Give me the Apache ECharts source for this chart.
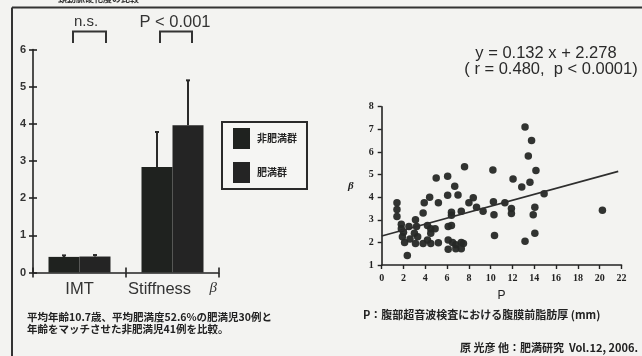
<!DOCTYPE html>
<html>
<head>
<meta charset="utf-8">
<script src="https://cdn.jsdelivr.net/npm/echarts@6/dist/echarts.min.js"></script>
<style>
html,body{margin:0;padding:0;background:#f3f3f1;}
#c{width:642px;height:356px;}
</style>
</head>
<body>
<div id="c"></div>
<script>
// ---- Bar chart data (left panel) ----
const groups = ['IMT', 'Stiffness β'];
const seriesNames = ['非肥満群', '肥満群'];
const nonObese = [0.42, 2.84];
const obese = [0.43, 3.96];
const nonObeseSD = [0.04, 0.94];
const obeseSD = [0.04, 1.21];
const sigLabels = ['n.s.', 'P < 0.001'];

// ---- Scatter data (right panel) ----
const pValues = [1.4,1.4,1.4,1.8,1.8,2.0,1.9,2.1,2.35,2.6,3.1,3.2,3.0,3.3,3.1,3.8,3.9,4.4,4.2,4.5,4.5,3.8,4.5,4.2,5.0,5.2,5.2,4.9,6.05,6.05,6.4,6.7,6.1,6.4,6.1,6.1,6.5,7.0,7.3,6.8,6.8,7.6,7.3,7.5,7.3,8.0,8.4,8.7,9.3,10.2,10.25,10.3,10.35,11.3,12.05,11.9,11.9,12.85,13.15,13.75,13.45,14.15,13.6,13.15,14.05,14.05,13.9,14.9,20.25,6.4,2.5];
const betaValues = [3.75,3.45,3.15,2.8,2.6,2.45,2.25,2.0,1.42,2.15,3.0,2.7,2.4,2.25,1.95,3.3,3.75,4.0,2.75,2.6,2.4,1.95,1.95,2.1,4.85,3.75,1.98,2.6,4.92,4.08,3.33,4.48,2.7,2.75,2.1,1.7,2.0,4.1,3.38,1.9,1.72,5.35,2.0,1.95,1.72,3.75,3.97,3.55,3.38,5.2,3.8,3.22,2.3,3.75,4.8,3.5,3.28,4.45,7.1,6.5,5.82,5.18,4.66,2.05,2.4,3.55,3.22,4.15,3.42,3.2,2.7];
const fitP = [0, 21.7];
const fitBeta = [2.278, 5.14];
const xTicksP = {min: 0, max: 22, interval: 2};
const yTicksBeta = {min: 1, max: 8, interval: 1};
const yTicksBar = {min: 0, max: 6, interval: 1};

const chart = echarts.init(document.getElementById('c'), null, {renderer: 'canvas'});

const ink = '#232323';
const sansBold = 'Liberation Sans';
const errData = [];
for (let i = 0; i < groups.length; i++) {
  errData.push([i, nonObese[i], nonObeseSD[i], -1]);
  errData.push([i, obese[i], obeseSD[i], 1]);
}
const scatterData = pValues.map((p, i) => [p, betaValues[i]]);
const fitData = fitP.map((p, i) => [p, fitBeta[i]]);

const axisLine = {show: true, lineStyle: {color: ink, width: 1.6}};

const option = {
  backgroundColor: '#f3f3f1',
  animation: false,
  grid: [
    {left: 33, top: 49.5, width: 186, height: 223},
    {left: 381.7, top: 106.7, width: 239.8, height: 158.3}
  ],
  legend: {
    data: seriesNames,
    orient: 'vertical',
    left: 222, top: 122,
    padding: [6, 10, 6, 11],
    itemWidth: 17, itemHeight: 21, itemGap: 13,
    icon: 'rect',
    borderColor: '#2a2a2a', borderWidth: 2,
    backgroundColor: '#f5f5f3',
    textStyle: {fontFamily: 'Noto Sans CJK JP', fontSize: 10, fontWeight: 'bold', color: ink, padding: [0,0,0,2]}
  },
  xAxis: [
    {gridIndex: 0, type: 'category', data: groups, position: 'bottom',
     axisLine: axisLine,
     axisTick: {show: true, length: 5, lineStyle: {color: ink, width: 1.6}},
     axisLabel: {margin: 8, interval: 0, hideOverlap: false, fontFamily: 'Liberation Sans', fontSize: 16.5, color: '#333',
       formatter: function (v) { return v === 'Stiffness β' ? 'Stiffness    {b|β}' : v; },
       rich: {b: {fontFamily: 'Liberation Serif', fontStyle: 'italic', fontSize: 15, color: '#333', padding: [0,0,3,0]}}},
     splitLine: {show: false}},
    {gridIndex: 0, type: 'category', data: groups, position: 'bottom', offset: 0,
     axisLine: {show: false},
     axisTick: {show: true, inside: true, length: 5, lineStyle: {color: ink, width: 1.6}},
     axisLabel: {show: false}, splitLine: {show: false}},
    {gridIndex: 1, type: 'value', min: xTicksP.min, max: xTicksP.max, interval: xTicksP.interval,
     axisLine: axisLine,
     axisTick: {show: true, length: 4, lineStyle: {color: ink, width: 1.4}},
     axisLabel: {margin: 8, fontFamily: 'Liberation Serif', fontWeight: 'bold', fontSize: 10, color: '#222'},
     splitLine: {show: false},
     name: 'P', nameLocation: 'middle', nameGap: 25,
     nameTextStyle: {fontFamily: 'Liberation Sans', fontSize: 12, color: '#222'}}
  ],
  yAxis: [
    {gridIndex: 0, type: 'value', position: 'left', min: yTicksBar.min, max: yTicksBar.max, interval: yTicksBar.interval,
     axisLine: axisLine,
     axisTick: {show: true, length: 4, lineStyle: {color: ink, width: 1.6}},
     axisLabel: {margin: 7, fontFamily: sansBold, fontWeight: 'bold', fontSize: 11, color: '#333'},
     splitLine: {show: false}},
    {gridIndex: 0, type: 'value', position: 'left', offset: 0, min: yTicksBar.min, max: yTicksBar.max, interval: yTicksBar.interval,
     axisLine: {show: false},
     axisTick: {show: true, inside: true, length: 4, lineStyle: {color: ink, width: 1.6}},
     axisLabel: {show: false}, splitLine: {show: false}},
    {gridIndex: 1, type: 'value', min: yTicksBeta.min, max: yTicksBeta.max, interval: yTicksBeta.interval,
     axisLine: axisLine,
     axisTick: {show: true, length: 4, lineStyle: {color: ink, width: 1.4}},
     axisLabel: {margin: 8, fontFamily: 'Liberation Serif', fontWeight: 'bold', fontSize: 10, color: '#222'},
     splitLine: {show: false},
     name: 'β', nameLocation: 'middle', nameGap: 28, nameRotate: 0,
     nameTextStyle: {fontFamily: 'Liberation Serif', fontStyle: 'italic', fontWeight: 'bold', fontSize: 11, color: '#222', padding: [0,0,12,0]}}
  ],
  series: [
    {name: seriesNames[0], type: 'bar', xAxisIndex: 0, yAxisIndex: 0, data: nonObese,
     barWidth: 31, barGap: '0%', itemStyle: {color: '#1f221f'}},
    {name: seriesNames[1], type: 'bar', xAxisIndex: 0, yAxisIndex: 0, data: obese,
     barWidth: 31, barGap: '0%', itemStyle: {color: '#242424'}},
    {name: 'SD', type: 'custom', xAxisIndex: 0, yAxisIndex: 0, data: errData, z: 5,
     renderItem: function (params, api) {
       const ci = api.value(0), v = api.value(1), e = api.value(2), side = api.value(3);
       const band = api.size([1, 0])[0];
       const bw = band / 3;
       const base = api.coord([ci, v]);
       const top = api.coord([ci, v + e]);
       const x = base[0] + side * bw / 2;
       const st = {stroke: '#2a2a2a', lineWidth: 2};
       return {type: 'group', children: [
         {type: 'line', shape: {x1: x, y1: base[1], x2: x, y2: top[1]}, style: st},
         {type: 'line', shape: {x1: x - 2, y1: top[1], x2: x + 2, y2: top[1]}, style: st}
       ]};
     }},
    {name: 'points', type: 'scatter', xAxisIndex: 2, yAxisIndex: 2, data: scatterData,
     symbolSize: 7.5, itemStyle: {color: '#262826', opacity: 0.95}},
    {name: 'fit', type: 'line', xAxisIndex: 2, yAxisIndex: 2, data: fitData,
     symbol: 'none', lineStyle: {color: '#2e2e2e', width: 1.6}, z: 3}
  ],
  graphic: [
    {type: 'line', shape: {x1: 12, y1: 7.5, x2: 642, y2: 7.5}, style: {stroke: '#333', lineWidth: 2}},
    {type: 'line', shape: {x1: 12, y1: 7.5, x2: 12, y2: 356}, style: {stroke: '#333', lineWidth: 2}},
    {type: 'text', style: {x: 58, y: 3.5, text: '頸動脈硬化度の比較', textVerticalAlign: 'bottom',
      font: 'bold 9px "Noto Sans CJK JP"', fill: '#333'}},
    {type: 'polyline', shape: {points: [[73, 43], [73, 31.5], [106, 31.5], [106, 43]]}, style: {stroke: '#333', lineWidth: 2, fill: null}},
    {type: 'polyline', shape: {points: [[160, 43], [160, 31.5], [192, 31.5], [192, 43]]}, style: {stroke: '#333', lineWidth: 2, fill: null}},
    {type: 'text', style: {x: 86, y: 22, text: sigLabels[0], textAlign: 'center', textVerticalAlign: 'middle',
      font: '15px "Liberation Sans"', fill: '#333'}},
    {type: 'text', style: {x: 175, y: 22, text: sigLabels[1], textAlign: 'center', textVerticalAlign: 'middle',
      font: '16.5px "Liberation Sans"', fill: '#333'}},
    {type: 'text', style: {x: 546, y: 53, text: 'y = 0.132 x + 2.278', textAlign: 'center', textVerticalAlign: 'middle',
      font: '16.5px "Liberation Sans"', fill: '#2a2a2a'}},
    {type: 'text', style: {x: 551, y: 69, text: '( r = 0.480,  p < 0.0001)', textAlign: 'center', textVerticalAlign: 'middle',
      font: '16.5px "Liberation Sans"', fill: '#2a2a2a'}},
    {type: 'text', style: {x: 27, y: 317, text: '平均年齢10.7歳、平均肥満度52.6%の肥満児30例と', textVerticalAlign: 'middle',
      font: 'bold 10.5px "Noto Sans CJK JP"', fill: '#222'}},
    {type: 'text', style: {x: 27, y: 329.5, text: '年齢をマッチさせた非肥満児41例を比較。', textVerticalAlign: 'middle',
      font: 'bold 10.5px "Noto Sans CJK JP"', fill: '#222'}},
    {type: 'text', style: {x: 363, y: 315, text: 'P：腹部超音波検査における腹膜前脂肪厚 (mm)', textVerticalAlign: 'middle',
      font: 'bold 11px "Noto Sans CJK JP"', fill: '#222'}},
    {type: 'text', style: {x: 638, y: 348, text: '原 光彦 他：肥満研究  Vol.12, 2006.', textAlign: 'right', textVerticalAlign: 'middle',
      font: 'bold 11px "Noto Sans CJK JP"', fill: '#222'}}
  ]
};
chart.setOption(option);
</script>
</body>
</html>
